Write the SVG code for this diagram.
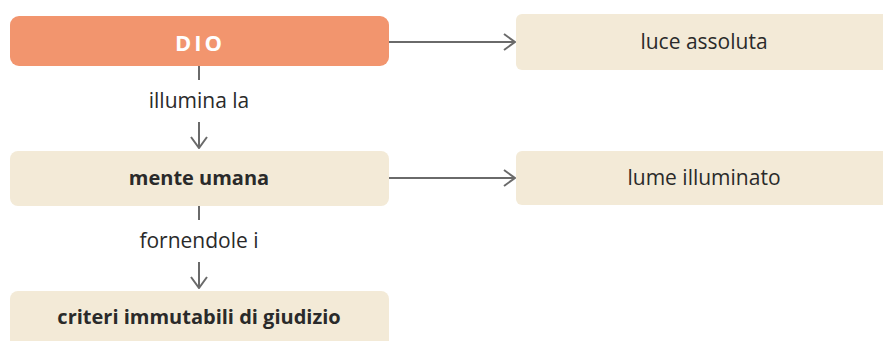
<svg xmlns="http://www.w3.org/2000/svg" width="883" height="341" viewBox="0 0 883 341">
<style>
.box{fill:#F3EAD7}
.t{font-family:"Open Sans","Noto Sans",sans-serif;font-size:21px;fill:#2a2a2a;text-anchor:middle}
.b{font-weight:bold;font-size:20px}
.ln{stroke:#6a6a6a;stroke-width:2;fill:none}
</style>
<defs>
<marker id="ah" viewBox="0 0 13 18" refX="12" refY="9" markerWidth="13" markerHeight="18" markerUnits="userSpaceOnUse" orient="auto">
<path d="M1,1 L12,9 L1,17" fill="none" stroke="#6a6a6a" stroke-width="2"/>
</marker>
</defs>
<rect width="883" height="341" fill="#fff"/>
<g id="dio">
<rect x="10" y="16" width="379" height="50" rx="9" fill="#F2956E"/>
<text class="t b" x="200" y="51" style="fill:#fff;font-size:22px;letter-spacing:3px">DIO</text>
</g>
<g id="luce">
<rect class="box" x="516" y="14" width="380" height="56" rx="6"/>
<text class="t" x="704" y="49">luce assoluta</text>
</g>
<g id="mente">
<rect class="box" x="10" y="151" width="379" height="55" rx="8"/>
<text class="t b" x="199" y="185">mente umana</text>
</g>
<g id="lume">
<rect class="box" x="516" y="151" width="380" height="54" rx="6"/>
<text class="t" x="704" y="185">lume illuminato</text>
</g>
<g id="criteri">
<rect class="box" x="10" y="291" width="379" height="60" rx="8"/>
<text class="t b" x="199" y="324">criteri immutabili di giudizio</text>
</g>
<g id="connectors">
<line class="ln" x1="389" y1="42" x2="515" y2="42" marker-end="url(#ah)"/>
<line class="ln" x1="389" y1="178" x2="515" y2="178" marker-end="url(#ah)"/>
<line class="ln" x1="199" y1="66" x2="199" y2="80"/>
<line class="ln" x1="199" y1="122" x2="199" y2="148" marker-end="url(#ah)"/>
<text class="t" x="199" y="108">illumina la</text>
<line class="ln" x1="199" y1="206" x2="199" y2="220"/>
<line class="ln" x1="199" y1="262" x2="199" y2="288" marker-end="url(#ah)"/>
<text class="t" x="199" y="248">fornendole i</text>
</g>
</svg>
